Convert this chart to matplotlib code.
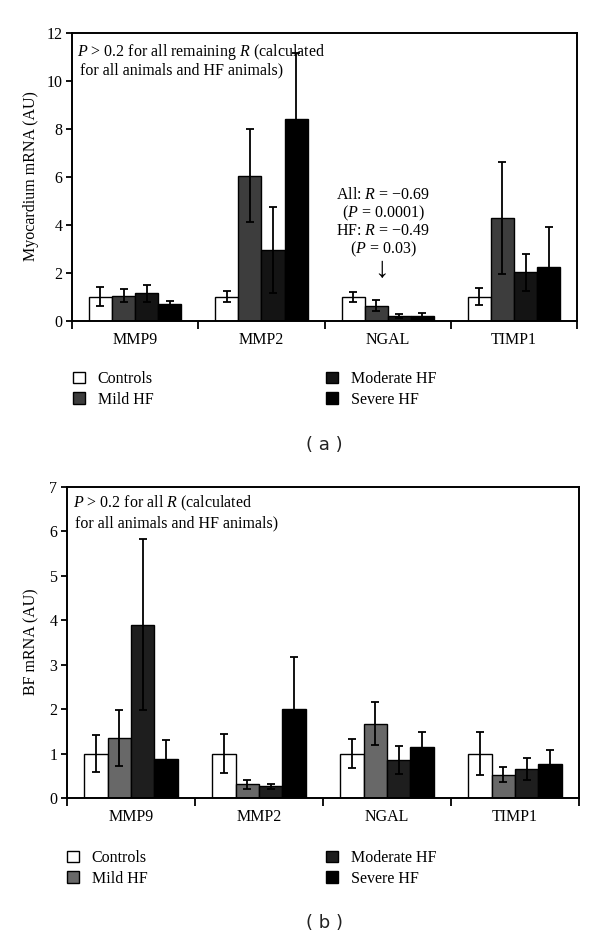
import numpy as np
import matplotlib
matplotlib.use("Agg")
import matplotlib.pyplot as plt

plt.rcParams["font.family"] = ["Liberation Serif", "DejaVu Serif"]
plt.rcParams["mathtext.fontset"] = "custom"
plt.rcParams["mathtext.rm"] = "Liberation Serif"
plt.rcParams["mathtext.it"] = "Liberation Serif:italic"

# ---------------- data ----------------
genes = ["MMP9", "MMP2", "NGAL", "TIMP1"]
groups = ["Controls", "Mild HF", "Moderate HF", "Severe HF"]

# panel (a): myocardium mRNA
myo_controls = [1.00, 1.00, 1.00, 1.00]
myo_mild = [1.05, 6.05, 0.63, 4.28]
myo_moderate = [1.15, 2.95, 0.20, 2.02]
myo_severe = [0.70, 8.40, 0.21, 2.25]
myo_controls_err = [0.40, 0.22, 0.21, 0.36]
myo_mild_err = [0.26, 1.93, 0.24, 2.32]
myo_moderate_err = [0.35, 1.80, 0.08, 0.77]
myo_severe_err = [0.12, 2.75, 0.12, 1.65]

# panel (b): BF mRNA
bf_controls = [1.00, 1.00, 1.00, 1.00]
bf_mild = [1.35, 0.31, 1.67, 0.52]
bf_moderate = [3.90, 0.26, 0.85, 0.65]
bf_severe = [0.87, 2.00, 1.15, 0.77]
bf_controls_err = [0.41, 0.43, 0.33, 0.49]
bf_mild_err = [0.62, 0.10, 0.48, 0.17]
bf_moderate_err = [1.93, 0.065, 0.31, 0.24]
bf_severe_err = [0.43, 1.18, 0.34, 0.31]

FS = 11.5
W = 0.183


def draw_panel(ax, values, errors, colors, ymax, ylabel_y, ylabel):
    x = np.arange(len(genes))
    handles = []
    for i, (vals, errs, col) in enumerate(zip(values, errors, colors)):
        b = ax.bar(x + (i - 1.5) * W, vals, W, color=col, edgecolor="black",
                   linewidth=1.0, label=groups[i], zorder=2)
        ax.errorbar(x + (i - 1.5) * W, vals, yerr=errs, fmt="none",
                    ecolor="black", elinewidth=1.3, capsize=3.0,
                    capthick=1.3, zorder=3)
        handles.append(b)
    ax.set_xlim(-0.5, 3.5)
    ax.set_ylim(0, ymax)
    ax.set_yticks(range(0, ymax + 1, 2 if ymax > 8 else 1))
    ax.set_xticks(np.arange(-0.5, 4.0, 1.0))
    ax.set_xticklabels([])
    ax.set_xticks(x, minor=True)
    ax.set_xticklabels(genes, minor=True, fontsize=FS)
    ax.tick_params(axis="x", which="major", direction="out", length=6, width=1.3)
    ax.tick_params(axis="x", which="minor", length=0, pad=8)
    ax.tick_params(axis="y", direction="out", length=4, width=1.3, labelsize=FS, pad=3)
    for s in ax.spines.values():
        s.set_linewidth(1.4)
    fig.text(31 / 600, ylabel_y, ylabel, rotation=90, ha="center", va="center",
             fontsize=FS)
    return handles


fig = plt.figure(figsize=(6, 9.4), dpi=100)

ax_a = fig.add_axes([0.12, 0.6588, 0.842, 0.3064])
ax_b = fig.add_axes([0.1117, 0.151, 0.8533, 0.3312])

h_a = draw_panel(
    ax_a,
    [myo_controls, myo_mild, myo_moderate, myo_severe],
    [myo_controls_err, myo_mild_err, myo_moderate_err, myo_severe_err],
    ["white", "#3d3d3d", "#141414", "black"],
    12, 1 - 176 / 940, "Myocardium mRNA (AU)",
)
h_b = draw_panel(
    ax_b,
    [bf_controls, bf_mild, bf_moderate, bf_severe],
    [bf_controls_err, bf_mild_err, bf_moderate_err, bf_severe_err],
    ["white", "#686868", "#1e1e1e", "black"],
    7, 1 - 642 / 940, "BF mRNA (AU)",
)

# annotations panel (a)
ax_a.text(0.010, 0.968, "$P$ > 0.2 for all remaining $R$ (calculated",
          transform=ax_a.transAxes, fontsize=FS, va="top", ha="left")
ax_a.text(0.016, 0.898, "for all animals and HF animals)",
          transform=ax_a.transAxes, fontsize=FS, va="top", ha="left")
for yv, s in zip([195, 213, 231, 249],
                 ["All: $R$ = \u22120.69", "($P$ = 0.0001)",
                  "HF: $R$ = \u22120.49", "($P$ = 0.03)"]):
    fig.text(383 / 600, 1 - yv / 940, s, fontsize=FS, ha="center", va="center")
fig.text(381 / 600, 1 - 270 / 940, "\u2193", fontsize=21, ha="center",
         va="center", family=["Liberation Serif", "DejaVu Sans"])

# annotations panel (b)
ax_b.text(0.012, 0.978, "$P$ > 0.2 for all $R$ (calculated",
          transform=ax_b.transAxes, fontsize=FS, va="top", ha="left")
ax_b.text(0.016, 0.908, "for all animals and HF animals)",
          transform=ax_b.transAxes, fontsize=FS, va="top", ha="left")

# legends
leg_kw = dict(frameon=False, fontsize=FS, handlelength=0.75, handleheight=0.75,
              handletextpad=0.8, labelspacing=0.3, borderpad=0, borderaxespad=0,
              loc="upper left")
fig.legend(h_a[:2], groups[:2], bbox_to_anchor=(73 / 600, 1 - 371 / 940), **leg_kw)
fig.legend(h_a[2:], groups[2:], bbox_to_anchor=(326 / 600, 1 - 371 / 940), **leg_kw)
fig.legend(h_b[:2], groups[:2], bbox_to_anchor=(67 / 600, 1 - 850 / 940), **leg_kw)
fig.legend(h_b[2:], groups[2:], bbox_to_anchor=(326 / 600, 1 - 850 / 940), **leg_kw)

fig.text(324 / 600, 1 - 445 / 940, "( a )", fontsize=13, ha="center", va="center",
         family=["DejaVu Sans"], color="#222222")
fig.text(324 / 600, 1 - 923 / 940, "( b )", fontsize=13, ha="center", va="center",
         family=["DejaVu Sans"], color="#222222")

fig.savefig("out.png", dpi=100)
